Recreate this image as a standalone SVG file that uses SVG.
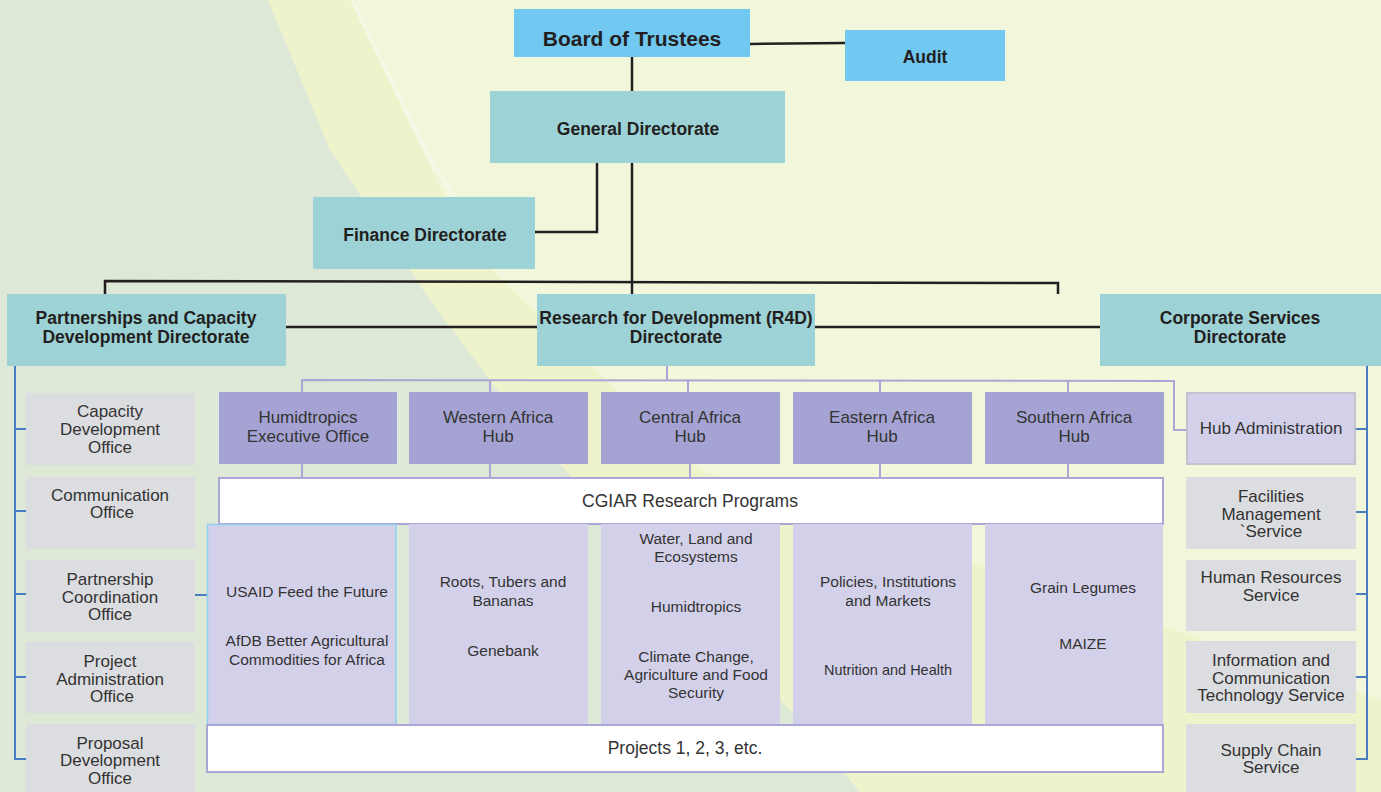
<svg xmlns="http://www.w3.org/2000/svg" width="1381" height="792" viewBox="0 0 1381 792">
<defs>
<style>
.bold{font-family:"Liberation Sans",Arial,sans-serif;font-weight:bold;font-size:17.5px;fill:#231f20;text-anchor:middle}
.title{font-family:"Liberation Sans",Arial,sans-serif;font-weight:bold;font-size:21px;fill:#231f20;text-anchor:middle}
.reg{font-family:"Liberation Sans",Arial,sans-serif;font-size:17px;fill:#333333;text-anchor:middle}
.regl{font-family:"Liberation Sans",Arial,sans-serif;font-size:17.5px;fill:#333333;text-anchor:middle}
.prog{font-family:"Liberation Sans",Arial,sans-serif;font-size:15.5px;fill:#333333;text-anchor:middle}
.progs{font-family:"Liberation Sans",Arial,sans-serif;font-size:14.5px;fill:#333333;text-anchor:middle}
.blue{fill:#71c8f1}
.teal{fill:#9dd2d6}
.hub{fill:#a5a3d3}
.pg{fill:#d3d1ea}
.grey{fill:#dcdde0}
.band{fill:#ffffff;stroke:#aaa7d6;stroke-width:2}
.blk{stroke:#231f20;stroke-width:2.5;fill:none}
.pur{stroke:#aaa7d6;stroke-width:2;fill:none}
.bl{stroke:#4a7cc4;stroke-width:2;fill:none}
</style>
</defs>
<g id="background">
<rect x="0" y="0" width="1381" height="792" fill="#f2f7dc"/>
<polygon points="268,0 352,0 470,250 700,470 1381,700 1381,792 860,792 800,720 700,620 610,520 520,420 430,300 330,150" fill="#eff3cb"/>
<polygon points="0,0 268,0 330,150 430,300 520,420 610,520 700,620 800,720 860,792 0,792" fill="#dde8d6"/>
<polyline points="352,0 420,140 490,260" stroke="#f5f8e4" stroke-width="4" fill="none"/>
</g>
<g id="connectors">
<line class="blk" x1="632" y1="57" x2="632" y2="91"/>
<line class="blk" x1="750" y1="44" x2="845" y2="43" stroke-width="2"/>
<line class="blk" x1="632" y1="163" x2="632" y2="294"/>
<polyline class="blk" points="597,163 597,232 535,232"/>
<polyline class="blk" points="105,294 105,281 1058,283 1058,294"/>
<line class="blk" x1="286" y1="327" x2="537" y2="327"/>
<line class="blk" x1="815" y1="327" x2="1100" y2="327"/>
<line class="pur" x1="667" y1="366" x2="667" y2="380"/>
<polyline class="pur" points="302,392 302,380 1174,381 1174,430 1186,430"/>
<line class="pur" x1="490" y1="380" x2="490" y2="392"/>
<line class="pur" x1="688" y1="380" x2="688" y2="392"/>
<line class="pur" x1="880" y1="381" x2="880" y2="392"/>
<line class="pur" x1="1068" y1="381" x2="1068" y2="392"/>
<line class="pur" x1="302" y1="464" x2="302" y2="478"/>
<line class="pur" x1="490" y1="464" x2="490" y2="478"/>
<line class="pur" x1="690" y1="464" x2="690" y2="478"/>
<line class="pur" x1="880" y1="464" x2="880" y2="478"/>
<line class="pur" x1="1068" y1="464" x2="1068" y2="478"/>
<polyline class="bl" points="15,366 15,759 26,759"/>
<line class="bl" x1="15" y1="429" x2="26" y2="429"/>
<line class="bl" x1="15" y1="511" x2="26" y2="511"/>
<line class="bl" x1="15" y1="594" x2="26" y2="594"/>
<line class="bl" x1="15" y1="677" x2="26" y2="677"/>
<line class="bl" x1="195" y1="595" x2="207" y2="595"/>
<polyline class="bl" points="1367,366 1367,759 1356,759"/>
<line class="bl" x1="1356" y1="429" x2="1367" y2="429"/>
<line class="bl" x1="1356" y1="512" x2="1367" y2="512"/>
<line class="bl" x1="1356" y1="594" x2="1367" y2="594"/>
<line class="bl" x1="1356" y1="677" x2="1367" y2="677"/>
</g>
<g id="board"><rect class="blue" x="514" y="9" width="236" height="48"/><text class="title" x="632" y="45.5">Board of Trustees</text></g>
<g id="audit"><rect class="blue" x="845" y="30" width="160" height="51"/><text class="bold" x="925" y="63">Audit</text></g>
<g id="general"><rect class="teal" x="490" y="91" width="295" height="72"/><text class="bold" x="638" y="135">General Directorate</text></g>
<g id="finance"><rect class="teal" x="313" y="197" width="222" height="72"/><text class="bold" x="425" y="241">Finance Directorate</text></g>
<g id="partnerships"><rect class="teal" x="7" y="294" width="279" height="72"/><text class="bold" x="146" y="324">Partnerships and Capacity</text><text class="bold" x="146" y="343">Development Directorate</text></g>
<g id="r4d"><rect class="teal" x="537" y="294" width="278" height="72"/><text class="bold" x="676" y="324">Research for Development (R4D)</text><text class="bold" x="676" y="343">Directorate</text></g>
<g id="corporate"><rect class="teal" x="1100" y="294" width="281" height="72"/><text class="bold" x="1240" y="324">Corporate Services</text><text class="bold" x="1240" y="343">Directorate</text></g>
<g id="capacity-office"><rect class="grey" x="26" y="393" width="169" height="72"/><text class="reg" x="110" y="417">Capacity</text><text class="reg" x="110" y="435">Development</text><text class="reg" x="110" y="453">Office</text></g>
<g id="communication-office"><rect class="grey" x="26" y="477" width="169" height="72"/><text class="reg" x="110" y="501">Communication</text><text class="reg" x="112" y="518">Office</text></g>
<g id="partnership-office"><rect class="grey" x="26" y="560" width="169" height="72"/><text class="reg" x="110" y="585">Partnership</text><text class="reg" x="110" y="603">Coordination</text><text class="reg" x="110" y="620">Office</text></g>
<g id="project-office"><rect class="grey" x="26" y="642" width="169" height="71"/><text class="reg" x="110" y="667">Project</text><text class="reg" x="110" y="685">Administration</text><text class="reg" x="112" y="702">Office</text></g>
<g id="proposal-office"><rect class="grey" x="26" y="724" width="169" height="72"/><text class="reg" x="110" y="749">Proposal</text><text class="reg" x="110" y="766">Development</text><text class="reg" x="110" y="784">Office</text></g>
<g id="hub-humidtropics"><rect class="hub" x="219" y="392" width="178" height="72"/><text class="reg" x="308" y="423">Humidtropics</text><text class="reg" x="308" y="442">Executive Office</text></g>
<g id="hub-western"><rect class="hub" x="409" y="392" width="179" height="72"/><text class="reg" x="498" y="423">Western Africa</text><text class="reg" x="498" y="442">Hub</text></g>
<g id="hub-central"><rect class="hub" x="601" y="392" width="179" height="72"/><text class="reg" x="690" y="423">Central Africa</text><text class="reg" x="690" y="442">Hub</text></g>
<g id="hub-eastern"><rect class="hub" x="793" y="392" width="179" height="72"/><text class="reg" x="882" y="423">Eastern Africa</text><text class="reg" x="882" y="442">Hub</text></g>
<g id="hub-southern"><rect class="hub" x="985" y="392" width="179" height="72"/><text class="reg" x="1074" y="423">Southern Africa</text><text class="reg" x="1074" y="442">Hub</text></g>
<g id="hub-administration"><rect class="pg" x="1187" y="393" width="168" height="71" stroke="#c3c3cf" stroke-width="2"/><text class="reg" x="1271" y="434">Hub Administration</text></g>
<g id="facilities"><rect class="grey" x="1186" y="477" width="170" height="72"/><text class="reg" x="1271" y="502">Facilities</text><text class="reg" x="1271" y="520">Management</text><text class="reg" x="1271" y="537">`Service</text></g>
<g id="hr"><rect class="grey" x="1186" y="560" width="170" height="71"/><text class="reg" x="1271" y="583">Human Resources</text><text class="reg" x="1271" y="601">Service</text></g>
<g id="ict"><rect class="grey" x="1186" y="641" width="170" height="72"/><text class="reg" x="1271" y="666">Information and</text><text class="reg" x="1271" y="684">Communication</text><text class="reg" x="1271" y="701">Technology Service</text></g>
<g id="supply"><rect class="grey" x="1186" y="724" width="170" height="72"/><text class="reg" x="1271" y="756">Supply Chain</text><text class="reg" x="1271" y="773">Service</text></g>
<g id="cgiar"><rect class="band" x="219" y="478" width="944" height="46"/><text class="regl" x="690" y="507">CGIAR Research Programs</text></g>
<g id="prog-usaid"><rect class="pg" x="207.5" y="524.5" width="188.5" height="200" stroke="#8fd0ee" stroke-width="1.5"/><text class="prog" x="307" y="597">USAID Feed the Future</text><text class="prog" x="307" y="646">AfDB Better Agricultural</text><text class="prog" x="307" y="665">Commodities for Africa</text></g>
<g id="prog-roots"><rect class="pg" x="409" y="524" width="179" height="201"/><text class="prog" x="503" y="587">Roots, Tubers and</text><text class="prog" x="503" y="606">Bananas</text><text class="prog" x="503" y="656">Genebank</text></g>
<g id="prog-water"><rect class="pg" x="601" y="524" width="179" height="201"/><text class="prog" x="696" y="544">Water, Land and</text><text class="prog" x="696" y="562">Ecosystems</text><text class="prog" x="696" y="612">Humidtropics</text><text class="prog" x="696" y="662">Climate Change,</text><text class="prog" x="696" y="680">Agriculture and Food</text><text class="prog" x="696" y="698">Security</text></g>
<g id="prog-policies"><rect class="pg" x="793" y="524" width="179" height="201"/><text class="prog" x="888" y="587">Policies, Institutions</text><text class="prog" x="888" y="606">and Markets</text><text class="progs" x="888" y="675">Nutrition and Health</text></g>
<g id="prog-grain"><rect class="pg" x="985" y="524" width="178" height="201"/><text class="prog" x="1083" y="593">Grain Legumes</text><text class="prog" x="1083" y="649">MAIZE</text></g>
<g id="projects"><rect class="band" x="207" y="725" width="956" height="47"/><text class="regl" x="685" y="754">Projects 1, 2, 3, etc.</text></g>
</svg>
